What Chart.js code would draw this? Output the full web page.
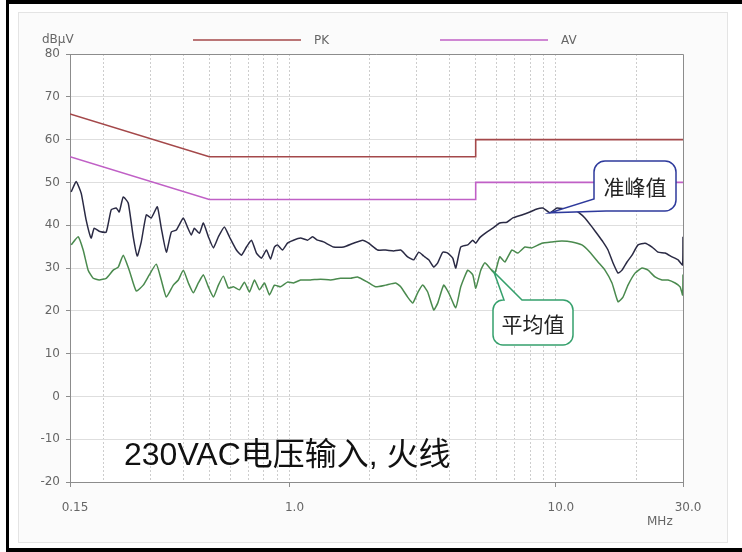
<!DOCTYPE html>
<html>
<head>
<meta charset="utf-8">
<script src="https://cdn.jsdelivr.net/npm/chart.js@4/dist/chart.umd.min.js"></script>
<style>
  body { margin: 0; background: #fff; }
  #wrap { position: relative; width: 742px; height: 552px; overflow: hidden; }
  #emi { position: absolute; left: 0; top: 0; }
  #frame {
    position: absolute; left: 6px; top: 0; width: 736px; height: 552px;
    box-sizing: border-box; pointer-events: none;
    border-top: 4px solid #000; border-left: 3px solid #000; border-bottom: 4px solid #000;
  }
</style>
</head>
<body>
<div id="wrap">
  <canvas id="emi" width="742" height="552"></canvas>
  <div id="frame"></div>
</div>
<script>
// conducted emission scan, 230VAC live line
const qpFreq = [0.1516, 0.1582, 0.1652, 0.1725, 0.1801, 0.1848, 0.1930, 0.2051, 0.2142, 0.2237,
  0.2296, 0.2376, 0.2481, 0.2591, 0.2683, 0.2777, 0.2900, 0.3029, 0.3190, 0.3302,
  0.3449, 0.3601, 0.3760, 0.3995, 0.4136, 0.4281, 0.4394, 0.4588, 0.4750, 0.4960,
  0.5180, 0.5409, 0.5696, 0.5948, 0.6321, 0.6601, 0.6892, 0.7197, 0.7515, 0.7847,
  0.8194, 0.8485, 0.8782, 0.9013, 0.9412, 0.9828, 1.035, 1.100, 1.169, 1.220,
  1.274, 1.342, 1.464, 1.596, 1.740, 1.881, 1.982, 2.142, 2.296, 2.460,
  2.615, 2.777, 2.926, 3.055, 3.190, 3.332, 3.479, 3.601, 3.760, 3.926,
  4.100, 4.208, 4.394, 4.669, 4.875, 5.004, 5.180, 5.503, 5.797, 6.158,
  6.545, 6.893, 7.451, 7.987, 8.485, 8.936, 9.493, 10.09, 10.81, 11.49,
  12.10, 12.85, 13.66, 14.39, 15.02, 15.69, 16.38, 17.11, 17.71, 18.49,
  19.31, 20.34, 21.61, 22.96, 24.18, 25.69, 27.30, 28.75, 29.9, 30.0];
const qpLevel = [47.8, 50.2, 47.5, 41.2, 37.0, 39.3, 38.6, 38.4, 43.6, 44.0,
  43.1, 46.6, 45.2, 37.3, 32.8, 36.1, 42.4, 41.7, 44.3, 39.3,
  33.7, 38.4, 38.9, 41.7, 39.6, 37.7, 39.3, 38.1, 40.5, 37.3,
  34.7, 37.3, 39.6, 37.3, 34.2, 33.0, 34.9, 36.5, 33.5, 32.3,
  34.2, 32.1, 34.9, 35.4, 34.2, 35.8, 36.5, 37.0, 36.5, 37.3,
  36.5, 36.1, 34.9, 34.9, 35.8, 36.5, 35.8, 34.2, 34.2, 34.0,
  34.2, 32.6, 31.9, 33.7, 32.8, 31.9, 30.2, 31.2, 33.7, 33.5,
  32.3, 30.0, 34.9, 35.4, 36.5, 35.8, 37.1, 38.4, 39.3, 40.5,
  40.7, 41.7, 42.4, 43.1, 43.8, 44.0, 42.9, 44.0, 43.8, 44.0,
  43.1, 41.7, 39.6, 37.7, 36.1, 34.2, 31.2, 28.8, 29.5, 31.4,
  33.0, 35.4, 35.8, 34.9, 33.7, 33.5, 32.6, 31.9, 30.7, 37.3];

const avFreq = [0.1516, 0.1609, 0.1681, 0.1755, 0.1833, 0.1930, 0.2051, 0.2180, 0.2276, 0.2376,
  0.2503, 0.2660, 0.2825, 0.2976, 0.3162, 0.3302, 0.3449, 0.3664, 0.3826, 0.3995,
  0.4173, 0.4356, 0.4548, 0.4750, 0.4960, 0.5180, 0.5409, 0.5647, 0.5897, 0.6159,
  0.6486, 0.6774, 0.7074, 0.7388, 0.7713, 0.8055, 0.8411, 0.8782, 0.9251, 0.9828,
  1.035, 1.100, 1.199, 1.308, 1.426, 1.555, 1.696, 1.801, 1.964, 2.105,
  2.296, 2.503, 2.615, 2.777, 2.900, 3.028, 3.162, 3.302, 3.479, 3.601,
  3.792, 3.960, 4.208, 4.394, 4.669, 4.875, 5.004, 5.224, 5.409, 5.647,
  5.897, 6.158, 6.432, 6.833, 7.197, 7.646, 8.126, 8.858, 9.660, 10.53,
  11.49, 12.52, 13.42, 14.39, 15.28, 16.24, 17.11, 17.86, 18.65, 19.82,
  21.05, 22.18, 23.56, 25.03, 26.37, 28.03, 29.26, 29.9, 30.0];
const avLevel = [35.4, 37.3, 34.2, 29.5, 27.6, 27.2, 27.6, 29.5, 30.2, 33.0,
  29.5, 24.6, 26.0, 28.4, 30.9, 27.2, 23.2, 26.0, 27.2, 29.5,
  26.5, 24.2, 26.5, 28.4, 25.6, 23.2, 26.0, 28.1, 25.3, 25.6,
  24.9, 26.7, 24.4, 27.2, 24.9, 26.5, 23.7, 26.0, 25.6, 26.7,
  26.5, 27.2, 27.2, 27.4, 27.2, 27.6, 27.6, 27.9, 26.7, 25.6,
  26.0, 26.5, 25.6, 23.2, 21.8, 24.2, 26.0, 24.4, 20.2, 21.8,
  26.0, 24.2, 20.7, 25.6, 29.5, 28.4, 25.3, 29.5, 31.2, 30.0,
  28.8, 32.6, 31.4, 34.2, 33.5, 34.9, 34.7, 35.8, 36.1, 36.3,
  36.1, 35.4, 33.7, 31.4, 29.5, 26.5, 22.1, 23.2, 26.0, 28.8,
  30.0, 29.5, 27.9, 27.2, 27.2, 26.5, 25.6, 23.7, 28.5];

// CISPR class B limit lines
const limitFreq = [0.15, 0.5, 5, 5, 30];
const pkLimit = [66, 56, 56, 60, 60];
const avLimit = [56, 46, 46, 50, 50];

const xGrid = [0.15, 0.2, 0.3, 0.4, 0.5, 0.6, 0.7, 0.8, 0.9, 1, 2, 3, 4, 5, 6, 7, 8, 9, 10, 20, 30];
const xLabelAt = [0.15, 1, 10, 30];
const xLabelText = ['0.15', '1.0', '10.0', '30.0'];

// where the two callouts point: [MHz, dBuV]
const qpNote = [9.49, 42.9];
const avNote = [5.85, 29.1];

const pts = (xs, ys) => xs.map((x, i) => ({ x: x, y: ys[i] }));

const extras = {
  id: 'extras',
  beforeDraw(chart) {
    const c = chart.ctx, a = chart.chartArea;
    c.save();
    c.fillStyle = '#fff';
    c.fillRect(0, 0, chart.width, chart.height);
    c.fillStyle = '#fbfbfb';
    c.fillRect(18, 12, 709, 530);
    c.strokeStyle = '#e4e4e4';
    c.strokeRect(18.5, 12.5, 709, 530);
    c.fillStyle = '#fff';
    c.fillRect(a.left, a.top, a.right - a.left, a.bottom - a.top);
    c.restore();
  },
  afterDraw(chart) {
    const c = chart.ctx, a = chart.chartArea;
    const xs = chart.scales.x, ys = chart.scales.y;
    const ds = chart.data.datasets;
    c.save();

    // box top + right edge
    c.strokeStyle = '#8c8c8c';
    c.lineWidth = 1;
    c.beginPath();
    c.moveTo(a.left, a.top + 0.5);
    c.lineTo(a.right + 0.5, a.top + 0.5);
    c.lineTo(a.right + 0.5, a.bottom);
    c.stroke();

    // legend (limit lines only)
    c.font = '12px "DejaVu Sans"';
    c.textBaseline = 'middle';
    c.fillStyle = '#666';
    [[0, 193], [1, 440]].forEach(([i, x0]) => {
      c.strokeStyle = ds[i].borderColor;
      c.lineWidth = 1.6;
      c.beginPath();
      c.moveTo(x0, 40);
      c.lineTo(x0 + 108, 40);
      c.stroke();
      c.fillText(ds[i].label, x0 + 121, 41);
    });

    c.fillText('dBµV', 42, 40);
    c.fillText('MHz', 647, 522);

    // caption
    c.fillStyle = '#111';
    c.textBaseline = 'alphabetic';
    c.font = '32px "Liberation Sans", "Noto Sans CJK SC"';
    c.fillText('230VAC电压输入, 火线', 124, 465);

    c.lineWidth = 1.5;

    // QP callout, tail off the lower-left corner
    let tx = xs.getPixelForValue(qpNote[0]), ty = ys.getPixelForValue(qpNote[1]);
    c.beginPath();
    c.moveTo(605, 161);
    c.lineTo(665, 161);
    c.arcTo(676, 161, 676, 172, 11);
    c.lineTo(676, 200);
    c.arcTo(676, 211, 665, 211, 11);
    c.lineTo(606, 211);
    c.lineTo(tx, ty);
    c.lineTo(594, 199);
    c.lineTo(594, 172);
    c.arcTo(594, 161, 605, 161, 11);
    c.closePath();
    c.fillStyle = '#fff';
    c.fill();
    c.strokeStyle = '#2e3a9c';
    c.stroke();

    // AV callout, tail off the top edge
    tx = xs.getPixelForValue(avNote[0]);
    ty = ys.getPixelForValue(avNote[1]);
    c.beginPath();
    c.moveTo(504, 300);
    c.lineTo(tx, ty);
    c.lineTo(522, 300);
    c.lineTo(563, 300);
    c.arcTo(573, 300, 573, 310, 10);
    c.lineTo(573, 335);
    c.arcTo(573, 345, 563, 345, 10);
    c.lineTo(503, 345);
    c.arcTo(493, 345, 493, 335, 10);
    c.lineTo(493, 310);
    c.arcTo(493, 300, 503, 300, 10);
    c.closePath();
    c.fillStyle = '#fff';
    c.fill();
    c.strokeStyle = '#35a06c';
    c.stroke();

    c.fillStyle = '#222';
    c.textAlign = 'center';
    c.textBaseline = 'middle';
    c.font = '21px "Noto Sans CJK SC"';
    c.fillText('准峰值', 635, 187);
    c.fillText('平均值', 533, 324);
    c.restore();
  }
};

new Chart(document.getElementById('emi'), {
  type: 'line',
  data: {
    datasets: [
      { label: 'PK', data: pts(limitFreq, pkLimit), borderColor: '#a4484a', borderWidth: 1.6 },
      { label: 'AV', data: pts(limitFreq, avLimit), borderColor: '#c060c6', borderWidth: 1.6 },
      { label: '准峰值', data: pts(qpFreq, qpLevel), borderColor: '#2a2a44', borderWidth: 1.5, tension: 0.15 },
      { label: '平均值', data: pts(avFreq, avLevel), borderColor: '#4a8a4e', borderWidth: 1.5, tension: 0.15 }
    ]
  },
  options: {
    responsive: false,
    animation: false,
    devicePixelRatio: 1,
    layout: { padding: { left: 20, right: 59, top: 54, bottom: 0 } },
    elements: { point: { radius: 0 } },
    plugins: { legend: { display: false }, tooltip: { enabled: false } },
    scales: {
      x: {
        type: 'logarithmic',
        min: 0.15,
        max: 30,
        afterBuildTicks: s => { s.ticks = xGrid.map(v => ({ value: v })); },
        afterFit: s => { s.height = 70; },
        grid: {
          color: ctx => (ctx.tick && (ctx.tick.value === 0.15 || ctx.tick.value === 30)) ? 'rgba(0,0,0,0)' : '#cdcdcd',
          tickColor: ctx => (ctx.tick && xLabelAt.includes(ctx.tick.value)) ? '#8c8c8c' : 'rgba(0,0,0,0)',
          tickLength: 5
        },
        border: { color: '#8c8c8c', dash: [2, 2] },
        ticks: {
          autoSkip: false,
          maxRotation: 0,
          padding: 14,
          labelOffset: 5,
          color: '#666',
          font: { family: 'DejaVu Sans', size: 12 },
          callback: v => {
            const i = xLabelAt.indexOf(v);
            return i < 0 ? '' : xLabelText[i];
          }
        }
      },
      y: {
        min: -20,
        max: 80,
        afterFit: s => { s.width = 50; },
        grid: { color: '#dedede', tickColor: '#8c8c8c', tickLength: 4 },
        border: { color: '#8c8c8c' },
        ticks: {
          stepSize: 10,
          padding: 6,
          color: '#666',
          font: { family: 'DejaVu Sans', size: 12 }
        }
      }
    }
  },
  plugins: [extras]
});
</script>
</body>
</html>
